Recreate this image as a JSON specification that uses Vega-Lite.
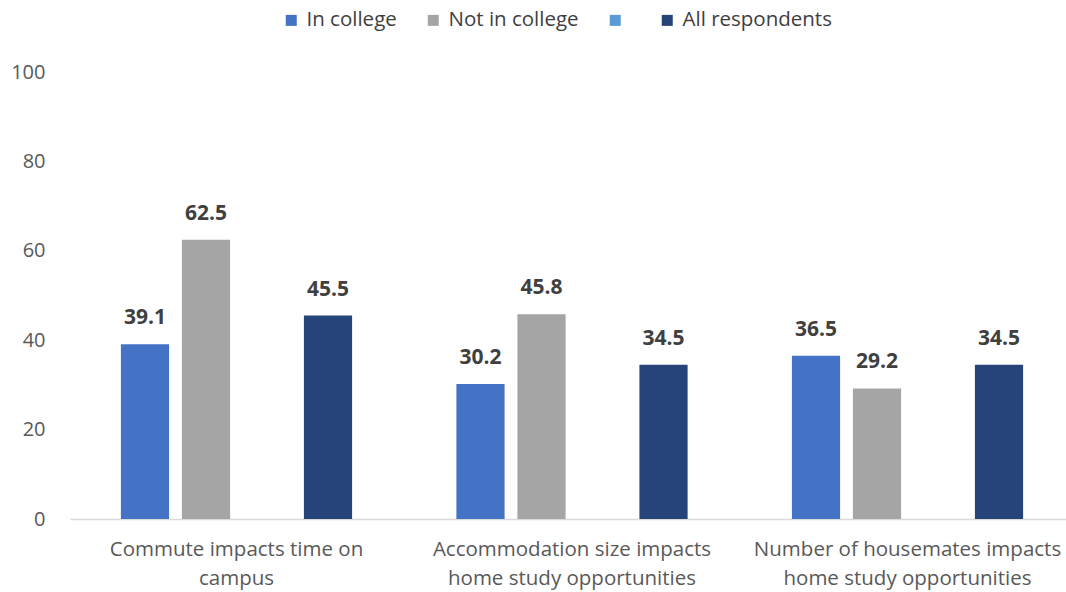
{
  "$schema": "https://vega.github.io/schema/vega-lite/v6.json",
  "width": 1004,
  "height": 447,
  "autosize": {"type": "none"},
  "padding": {"left": 70, "top": 72, "right": 0, "bottom": 73},
  "background": "white",
  "config": {
    "view": {"stroke": null},
    "font": "Open Sans",
    "axis": {"labelFont": "Open Sans", "labelColor": "#595959", "grid": false, "ticks": false}
  },
  "data": {
    "values": [
      {"category": "Commute impacts time on campus", "group": "In college", "value": 39.1},
      {"category": "Commute impacts time on campus", "group": "Not in college", "value": 62.5},
      {"category": "Commute impacts time on campus", "group": "All respondents", "value": 45.5},
      {"category": "Accommodation size impacts home study opportunities", "group": "In college", "value": 30.2},
      {"category": "Accommodation size impacts home study opportunities", "group": "Not in college", "value": 45.8},
      {"category": "Accommodation size impacts home study opportunities", "group": "All respondents", "value": 34.5},
      {"category": "Number of housemates impacts home study opportunities", "group": "In college", "value": 36.5},
      {"category": "Number of housemates impacts home study opportunities", "group": "Not in college", "value": 29.2},
      {"category": "Number of housemates impacts home study opportunities", "group": "All respondents", "value": 34.5}
    ]
  },
  "encoding": {
    "x": {
      "field": "category",
      "type": "nominal",
      "sort": null,
      "scale": {"paddingInner": 0.2727, "paddingOuter": 0.1326},
      "axis": {
        "title": null,
        "labelAngle": 0,
        "labelFontSize": 20.5,
        "labelPadding": 20,
        "labelLineHeight": 29,
        "labelLimit": 400,
        "domainColor": "#D9D9D9",
        "domainWidth": 1.5,
        "labelExpr": "{'Commute impacts time on campus': ['Commute impacts time on', 'campus'], 'Accommodation size impacts home study opportunities': ['Accommodation size impacts', 'home study opportunities'], 'Number of housemates impacts home study opportunities': ['Number of housemates impacts', 'home study opportunities']}[datum.label]"
      }
    },
    "xOffset": {
      "field": "group",
      "type": "nominal",
      "scale": {
        "domain": ["In college", "Not in college", " ", "All respondents"],
        "paddingInner": 0.21,
        "paddingOuter": 0.105
      }
    },
    "y": {
      "field": "value",
      "type": "quantitative",
      "scale": {"domain": [0, 100], "nice": false},
      "axis": {
        "title": null,
        "values": [0, 20, 40, 60, 80, 100],
        "domain": false,
        "labelFontSize": 20,
        "labelPadding": 25
      }
    }
  },
  "layer": [
    {
      "mark": {"type": "bar"},
      "encoding": {
        "color": {
          "field": "group",
          "type": "nominal",
          "scale": {
            "domain": ["In college", "Not in college", " ", "All respondents"],
            "range": ["#4472C4", "#A5A5A5", "#5B9BD5", "#264478"]
          },
          "legend": {
            "title": null,
            "orient": "none",
            "direction": "horizontal",
            "legendX": 211,
            "legendY": -62,
            "symbolType": "square",
            "symbolSize": 121,
            "symbolStrokeWidth": 0,
            "symbolOpacity": 1,
            "labelFontSize": 20.5,
            "labelColor": "#404040",
            "labelOffset": 5,
            "columnPadding": 26
          }
        }
      }
    },
    {
      "mark": {
        "type": "text",
        "baseline": "alphabetic",
        "dy": -20,
        "fontSize": 21,
        "fontWeight": "bold",
        "color": "#404040"
      },
      "encoding": {
        "text": {"field": "value", "type": "quantitative", "format": ".1f"}
      }
    }
  ]
}
